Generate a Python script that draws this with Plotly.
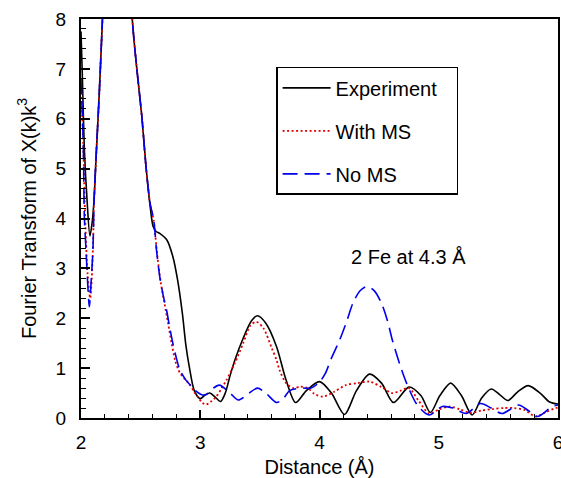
import plotly.graph_objects as go

# ---- data ----
exp_x = [2.0, 2.012, 2.028, 2.05, 2.075, 2.095, 2.11, 2.13, 2.153, 2.18, 2.22, 2.27, 2.31, 2.36, 2.40, 2.43,
         2.466, 2.51, 2.545, 2.58, 2.605, 2.63, 2.66, 2.72, 2.77, 2.81, 2.85, 2.88, 2.91, 2.95, 3.0, 3.04,
         3.08, 3.125, 3.17, 3.21, 3.25, 3.29, 3.36, 3.43, 3.48, 3.55, 3.64, 3.72, 3.80, 3.89, 4.0, 4.1,
         4.21, 4.31, 4.42, 4.52, 4.62, 4.75, 4.85, 4.93, 5.01, 5.10, 5.19, 5.28, 5.36, 5.44, 5.51, 5.58,
         5.66, 5.75, 5.85, 5.93, 6.0]
exp_y = [7.75, 6.8, 5.4, 4.4, 3.65, 3.95, 4.4, 5.4, 6.5, 8.0, 10.2, 11.6, 12.0, 11.5, 9.8, 8.0,
         7.05, 6.05, 5.04, 4.24, 3.84, 3.74, 3.70, 3.57, 3.24, 2.77, 2.1, 1.45, 1.0, 0.55, 0.39, 0.46,
         0.50, 0.42, 0.33, 0.5, 0.85, 1.16, 1.6, 1.95, 2.05, 1.9, 1.43, 0.76, 0.31, 0.55, 0.73, 0.5,
         0.07, 0.55, 0.88, 0.7, 0.31, 0.62, 0.45, 0.11, 0.45, 0.70, 0.45, 0.06, 0.4, 0.58, 0.47, 0.35,
         0.52, 0.65, 0.5, 0.32, 0.28]

ms_x = [2.0, 2.02, 2.035, 2.055, 2.077, 2.09, 2.10, 2.11, 2.13, 2.153, 2.18, 2.22, 2.27, 2.31, 2.36, 2.40,
        2.43, 2.466, 2.51, 2.545, 2.58, 2.61, 2.64, 2.67, 2.70, 2.73, 2.76, 2.79, 2.83, 2.87, 2.91, 2.95,
        2.98, 3.02, 3.05, 3.09, 3.135, 3.18, 3.22, 3.29, 3.36, 3.42, 3.47, 3.53, 3.60, 3.64, 3.665, 3.72,
        3.78, 3.84, 3.90, 3.96, 4.03, 4.12, 4.22, 4.32, 4.42, 4.52, 4.61, 4.68, 4.75, 4.83, 4.92, 5.0,
        5.09, 5.18, 5.27, 5.36, 5.45, 5.55, 5.63, 5.72, 5.81, 5.9, 5.98, 6.0]
ms_y = [6.8, 5.4, 4.0, 2.9, 2.4, 2.8, 3.4, 4.38, 5.4, 6.5, 8.0, 10.2, 11.6, 12.0, 11.5, 9.8,
        8.0, 7.05, 6.05, 5.04, 4.3, 3.95, 3.25, 2.7, 2.3, 1.9, 1.5, 1.15, 0.9, 0.78, 0.68, 0.52,
        0.42, 0.3, 0.27, 0.33, 0.43, 0.6, 0.76, 1.1, 1.5, 1.85, 1.93, 1.8, 1.4, 1.16, 0.96, 0.7,
        0.6, 0.63, 0.6, 0.48, 0.43, 0.52, 0.66, 0.7, 0.73, 0.62, 0.50, 0.55, 0.6, 0.35, 0.09, 0.17,
        0.23, 0.17, 0.1, 0.15, 0.18, 0.2, 0.2, 0.16, 0.03, 0.12, 0.2, 0.21]

noms_x = [2.0, 2.019, 2.028, 2.042, 2.056, 2.07, 2.084, 2.10, 2.11, 2.13, 2.153, 2.18, 2.22, 2.27, 2.31, 2.36,
          2.40, 2.43, 2.466, 2.51, 2.545, 2.58, 2.61, 2.633, 2.66, 2.69, 2.717, 2.745, 2.77, 2.80, 2.83, 2.88,
          2.94, 2.97, 3.02, 3.05, 3.10, 3.16, 3.25, 3.32, 3.41, 3.48, 3.55, 3.64, 3.70, 3.75, 3.85, 3.93,
          4.0, 4.05, 4.10, 4.17, 4.23, 4.28, 4.34, 4.40, 4.46, 4.52, 4.57, 4.61, 4.67, 4.73, 4.82, 4.92,
          5.03, 5.12, 5.23, 5.35, 5.44, 5.53, 5.67, 5.75, 5.83, 5.95, 6.0]
noms_y = [6.8, 5.5, 4.04, 3.37, 2.7, 2.23, 2.7, 3.37, 4.38, 5.4, 6.5, 8.0, 10.2, 11.6, 12.0, 11.5,
          9.8, 8.0, 7.05, 6.05, 5.04, 4.3, 3.97, 3.37, 2.84, 2.45, 2.17, 1.8, 1.5, 1.2, 0.96, 0.76,
          0.6, 0.53, 0.46, 0.47, 0.58, 0.66, 0.5, 0.36, 0.5, 0.60, 0.5, 0.31, 0.4, 0.55, 0.6, 0.6,
          0.72, 0.9, 1.2, 1.57, 1.95, 2.3, 2.55, 2.64, 2.55, 2.3, 1.95, 1.57, 1.1, 0.7, 0.26, 0.06,
          0.23, 0.2, 0.09, 0.29, 0.2, 0.09, 0.26, 0.15, 0.03, 0.23, 0.26]

series_names = ["Experiment", "With MS", "No MS"]
x_ticks = [2, 3, 4, 5, 6]
y_ticks = [0, 1, 2, 3, 4, 5, 6, 7, 8]

FONT = "Liberation Sans, Arial, sans-serif"

fig = go.Figure()
fig.add_trace(go.Scatter(x=exp_x, y=exp_y, mode="lines", name=series_names[0] + "\u2002\u2009", legendgroup="a",
                         line=dict(color="black", width=1.6, shape="spline", smoothing=0.8)))
fig.add_trace(go.Scatter(x=ms_x, y=ms_y, mode="lines", name=series_names[1], legendgroup="b",
                         line=dict(color="#e00000", width=1.8, dash="2px,2.5px", shape="spline", smoothing=0.8)))
fig.add_trace(go.Scatter(x=noms_x, y=noms_y, mode="lines", name=series_names[2], legendgroup="c",
                         line=dict(color="#0000ee", width=1.6, dash="15px,7px", shape="spline", smoothing=0.8)))

fig.add_annotation(x=4.75, y=3.23, text="2 Fe at 4.3 Å", showarrow=False,
                   font=dict(family=FONT, size=20, color="black"))

axis_common = dict(showgrid=False, zeroline=False, showline=True, linecolor="black", linewidth=2,
                   mirror=True, ticks="inside", tickcolor="black", tickwidth=1.5, automargin=False,
                   ticklabeloverflow="allow",
                   tickfont=dict(family=FONT, size=19, color="black"))

fig.update_xaxes(range=[2, 6], tickvals=x_ticks, ticklen=8, ticklabelstandoff=6,
                 minor=dict(dtick=0.2, ticks="inside", ticklen=4, tickcolor="black", tickwidth=1.2),
                 title=dict(text="Distance (Å)", font=dict(family=FONT, size=20, color="black"), standoff=9),
                 **axis_common)
fig.update_yaxes(range=[0, 8], tickvals=y_ticks, ticklen=9, ticklabelstandoff=9,
                 minor=dict(dtick=0.2, ticks="inside", ticklen=5, tickcolor="black", tickwidth=1.2),
                 title=dict(text="Fourier Transform of X(k)k<sup>3</sup>",
                            font=dict(family=FONT, size=20, color="black"), standoff=14),
                 **axis_common)

fig.update_layout(
    width=561, height=478,
    margin=dict(l=81, r=3, t=19, b=60),
    paper_bgcolor="white", plot_bgcolor="white",
    font=dict(family=FONT, size=20, color="black"),
    showlegend=True,
    legend=dict(x=0.409, y=0.880, xanchor="left", yanchor="top",
                bordercolor="black", borderwidth=1.5, bgcolor="white",
                font=dict(family=FONT, size=20, color="black"),
                traceorder="grouped", tracegroupgap=14, itemwidth=48),
)

fig.write_html("out.html", config={"displayModeBar": False},
               post_script="document.body.style.margin='0';")
